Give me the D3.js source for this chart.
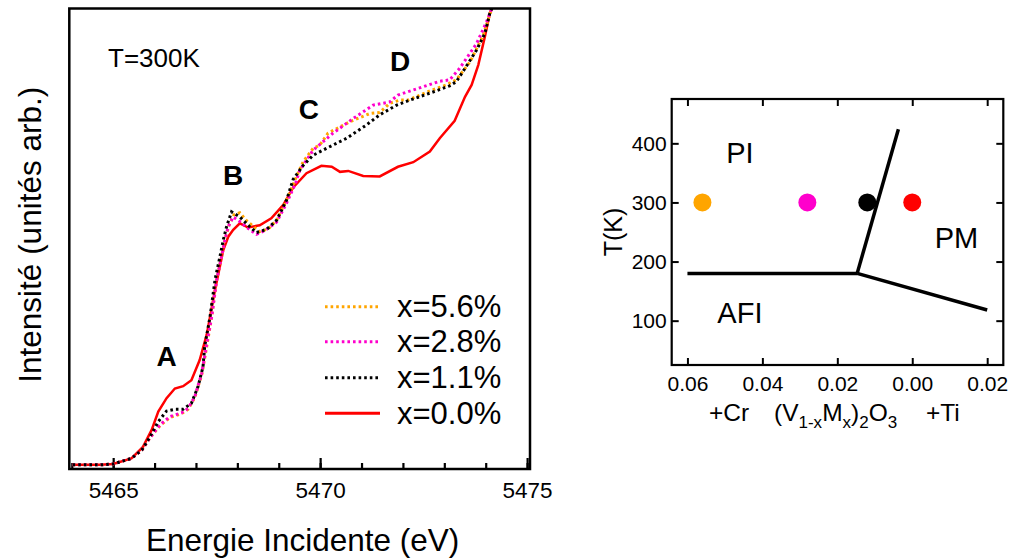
<!DOCTYPE html>
<html><head><meta charset="utf-8">
<script src="https://cdn.jsdelivr.net/npm/d3@7"></script>
<style>body{margin:0;background:#fff}svg{display:block}text{font-family:"Liberation Sans",Arial,sans-serif;fill:#000}</style>
</head><body>
<script>
// ---------- Data: XANES spectra (energy eV, normalized intensity) ----------
const seriesLabels = ["x=5.6%", "x=2.8%", "x=1.1%", "x=0.0%"];
const seriesColors = ["#ffa500", "#ff00cc", "#000000", "#ff0000"];
const specOrange = [[5464.02,.009],[5464.68,.009],[5465.00,.011],[5465.44,.023],[5465.69,.041],[5465.89,.068],[5466.13,.094],[5466.37,.112],[5466.65,.120],[5466.81,.130],[5466.97,.155],[5467.14,.205],[5467.26,.266],[5467.38,.331],[5467.50,.411],[5467.62,.462],[5467.70,.498],[5467.80,.530],[5467.92,.553],[5468.06,.557],[5468.22,.540],[5468.54,.516],[5468.75,.522],[5468.95,.541],[5469.19,.585],[5469.41,.632],[5469.59,.668],[5469.83,.697],[5469.99,.704],[5470.19,.730],[5470.72,.755],[5471.21,.773],[5471.44,.775],[5471.68,.795],[5471.93,.802],[5472.13,.802],[5472.65,.822],[5473.05,.835],[5473.29,.846],[5473.62,.885],[5473.94,.943],[5474.15,1.002]];
const specMagenta = [[5464.02,.009],[5464.68,.009],[5465.00,.011],[5465.44,.023],[5465.69,.041],[5465.89,.068],[5466.13,.096],[5466.37,.114],[5466.65,.122],[5466.81,.132],[5466.97,.157],[5467.14,.208],[5467.25,.266],[5467.38,.331],[5467.50,.411],[5467.62,.462],[5467.70,.498],[5467.78,.527],[5467.90,.548],[5468.06,.538],[5468.26,.523],[5468.46,.510],[5468.66,.518],[5468.95,.537],[5469.19,.578],[5469.41,.622],[5469.51,.650],[5469.83,.693],[5470.31,.730],[5470.80,.762],[5471.28,.791],[5471.68,.798],[5471.88,.813],[5472.25,.824],[5472.89,.843],[5473.13,.846],[5473.37,.871],[5473.78,.925],[5474.02,.972],[5474.15,1.002]];
const specBlack = [[5464.02,.009],[5464.68,.009],[5465.00,.011],[5465.44,.023],[5465.69,.041],[5465.89,.070],[5466.09,.103],[5466.29,.126],[5466.51,.130],[5466.69,.130],[5466.89,.143],[5467.05,.179],[5467.17,.222],[5467.21,.266],[5467.34,.331],[5467.46,.411],[5467.58,.462],[5467.66,.498],[5467.74,.527],[5467.86,.559],[5468.06,.548],[5468.26,.530],[5468.46,.514],[5468.71,.521],[5468.95,.541],[5469.19,.585],[5469.35,.630],[5469.59,.660],[5469.83,.682],[5470.15,.697],[5470.64,.719],[5471.12,.748],[5471.44,.770],[5471.85,.791],[5472.17,.802],[5472.65,.817],[5473.13,.833],[5473.29,.842],[5473.50,.871],[5473.78,.911],[5473.98,.947],[5474.10,.991],[5474.15,1.002]];
const specRed = [[5464.02,.009],[5464.68,.009],[5465.00,.011],[5465.44,.023],[5465.72,.048],[5465.93,.085],[5466.09,.125],[5466.29,.154],[5466.49,.175],[5466.69,.180],[5466.89,.193],[5467.09,.237],[5467.26,.292],[5467.46,.389],[5467.66,.476],[5467.78,.505],[5467.90,.520],[5468.06,.534],[5468.26,.525],[5468.54,.530],[5468.82,.545],[5469.11,.574],[5469.35,.612],[5469.67,.643],[5470.03,.659],[5470.28,.657],[5470.48,.646],[5470.68,.648],[5471.04,.637],[5471.44,.636],[5471.88,.657],[5472.25,.667],[5472.65,.690],[5472.89,.719],[5473.25,.757],[5473.50,.809],[5473.66,.835],[5473.82,.878],[5473.98,.940],[5474.10,.991],[5474.15,1.002]];
const spectra = [specOrange, specMagenta, specBlack, specRed];
const energyMinorTicks = [5464,5465,5466,5467,5468,5469,5470,5471,5472,5473,5474,5475];
const energyMajorTicks = [5465,5470,5475];
const peakLabels = ["A","B","C","D"];
const peakPos = [[5466.29,0.225],[5467.90,0.617],[5469.73,0.761],[5471.93,0.865]];

// ---------- Data: phase diagram ----------
const dopingTicks = [0.06,0.04,0.02,0.00,-0.02];
const tempTicks = [100,200,300,400];
const boundaryAFI = [[0.06,180],[0.0147,180]];
const boundaryPM_AFI = [[0.0147,180],[-0.02,118]];
const boundaryPI_PM = [[0.0147,180],[0.0037,424]];
const sampleX = [0.056,0.028,0.012,0.0];
const sampleT = [300,300,300,300];
const phaseNames = ["PI","PM","AFI"];
const phasePos = [[0.046,367],[-0.0118,223],[0.046,96]];

const W=1013,H=560;
const svg=d3.select("body").append("svg").attr("width",W).attr("height",H);
svg.append("rect").attr("width",W).attr("height",H).attr("fill","#fff");

// ===== Left panel =====
const L={l:69.3,r:530,t:8.5,b:469};
const x=d3.scaleLinear().domain([5463.94,5475.07]).range([L.l,L.r]);
const y=d3.scaleLinear().domain([0,1]).range([469,9]);
const gL=svg.append("g");
gL.append("clipPath").attr("id","clipL").append("rect").attr("x",L.l).attr("y",L.t).attr("width",L.r-L.l).attr("height",L.b-L.t);

const minorAxis=d3.axisBottom(x).tickValues(energyMinorTicks).tickSizeInner(-6).tickSizeOuter(0).tickFormat("");
const majorAxis=d3.axisBottom(x).tickValues(energyMajorTicks).tickSizeInner(-11).tickSizeOuter(0).tickPadding(13).tickFormat(d3.format("d"));
[minorAxis,majorAxis].forEach(a=>{
  const g=gL.append("g").attr("transform",`translate(0,${L.b})`).call(a);
  g.select(".domain").remove();
  g.selectAll(".tick line").attr("stroke","#000").attr("stroke-width",2.2);
  g.selectAll(".tick text").style("font-size","22.5px").attr("fill","#000").style("font-family",'"Liberation Sans",Arial,sans-serif');
});

const line=d3.line().x(d=>x(d[0])).y(d=>y(d[1]));
const drawOrder=[3,0,1,2];
const lg=gL.append("g").attr("clip-path","url(#clipL)");
drawOrder.forEach(i=>{
  const p=lg.append("path").datum(spectra[i]).attr("d",line).attr("fill","none").attr("stroke",seriesColors[i]);
  if(i===3){p.attr("stroke-width",2.5);} else {p.attr("stroke-width",3).attr("stroke-dasharray","2.6,3");}
});
gL.append("rect").attr("x",L.l).attr("y",L.t).attr("width",L.r-L.l).attr("height",L.b-L.t).attr("fill","none").attr("stroke","#000").attr("stroke-width",2.5);

peakLabels.forEach((t,i)=>{
  gL.append("text").attr("x",x(peakPos[i][0])).attr("y",y(peakPos[i][1])).attr("text-anchor","middle")
    .style("font-size","28px").style("font-weight","bold").text(t);
});
gL.append("text").attr("x",108).attr("y",67).style("font-size","26px").text("T=300K");

// legend
const legY=[306.7,341.7,377.7,413.3];
seriesLabels.forEach((t,i)=>{
  const l=gL.append("line").attr("x1",325).attr("x2",380).attr("y1",legY[i]).attr("y2",legY[i]).attr("stroke",seriesColors[i]);
  if(i===3) l.attr("stroke-width",3); else l.attr("stroke-width",3).attr("stroke-dasharray","2.6,3");
  gL.append("text").attr("x",397).attr("y",legY[i]+10.5).style("font-size","31px").text(t);
});
gL.append("text").attr("x",(L.l+L.r)/2+3).attr("y",551).attr("text-anchor","middle").style("font-size","31.5px").text("Energie Incidente (eV)");
gL.append("text").attr("transform",`translate(41,${(L.t+L.b)/2-4}) rotate(-90)`).attr("text-anchor","middle").style("font-size","31.5px").text("Intensité (unités arb.)");

// ===== Right panel =====
const R={l:671.7,r:1003.3,t:99,b:365};
const px=d3.scaleLinear().domain([0.0642,-0.0243]).range([R.l,R.r]);
const py=d3.scaleLinear().domain([25,475]).range([R.b,R.t]);
const gR=svg.append("g");
function styleAxis(g){g.select(".domain").remove();g.selectAll(".tick line").attr("stroke","#000").attr("stroke-width",2);
  g.selectAll(".tick text").style("font-size","21px").attr("fill","#000").style("font-family",'"Liberation Sans",Arial,sans-serif');}
gR.append("g").attr("transform",`translate(0,${R.b})`).call(d3.axisBottom(px).tickValues(dopingTicks).tickSizeInner(-7).tickSizeOuter(0).tickPadding(11).tickFormat(d=>Math.abs(d).toFixed(2))).call(styleAxis);
gR.append("g").attr("transform",`translate(0,${R.t})`).call(d3.axisTop(px).tickValues(dopingTicks).tickSizeInner(-7).tickSizeOuter(0).tickFormat("")).call(styleAxis);
gR.append("g").attr("transform",`translate(${R.l},0)`).call(d3.axisLeft(py).tickValues(tempTicks).tickSizeInner(-7).tickSizeOuter(0).tickPadding(5)).call(styleAxis);
gR.append("g").attr("transform",`translate(${R.r},0)`).call(d3.axisRight(py).tickValues(tempTicks).tickSizeInner(-7).tickSizeOuter(0).tickFormat("")).call(styleAxis);
gR.append("rect").attr("x",R.l).attr("y",R.t).attr("width",R.r-R.l).attr("height",R.b-R.t).attr("fill","none").attr("stroke","#000").attr("stroke-width",2.2);

const pline=d3.line().x(d=>px(d[0])).y(d=>py(d[1]));
[boundaryAFI,boundaryPM_AFI,boundaryPI_PM].forEach(b=>{
  gR.append("path").datum(b).attr("d",pline).attr("fill","none").attr("stroke","#000").attr("stroke-width",3.5);
});
sampleX.forEach((v,i)=>{
  gR.append("circle").attr("cx",px(v)).attr("cy",py(sampleT[i])).attr("r",9).attr("fill",seriesColors[i]);
});
phaseNames.forEach((t,i)=>{
  gR.append("text").attr("x",px(phasePos[i][0])).attr("y",py(phasePos[i][1])).attr("text-anchor","middle").style("font-size","29px").text(t);
});
gR.append("text").attr("transform",`translate(622,${py(250)}) rotate(-90)`).attr("text-anchor","middle").style("font-size","25px").text("T(K)");
const xl=gR.append("text").attr("x",709).attr("y",421).style("font-size","24.5px");
xl.append("tspan").text("+Cr");
xl.append("tspan").attr("x",774).text("(V");
xl.append("tspan").attr("dy",7).style("font-size","17px").text("1-x");
xl.append("tspan").attr("dy",-7).text("M");
xl.append("tspan").attr("dy",7).style("font-size","17px").text("x");
xl.append("tspan").attr("dy",-7).text(")");
xl.append("tspan").attr("dy",7).style("font-size","17px").text("2");
xl.append("tspan").attr("dy",-7).text("O");
xl.append("tspan").attr("dy",7).style("font-size","17px").text("3");
xl.append("tspan").attr("dy",-7).attr("x",926).text("+Ti");
</script>
</body></html>
